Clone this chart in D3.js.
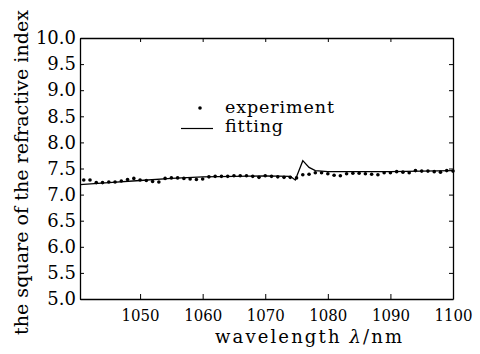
<!DOCTYPE html>
<html>
<head>
<meta charset="utf-8">
<script src="https://cdn.jsdelivr.net/npm/d3@7"></script>
<style>
    body { margin: 0; background: #fff; }
    .axis path, .axis line { stroke: #000; }
</style>
</head>
<body>
<div id="scene"></div>
<script>
// experiment points (wavelength in nm, square of refractive index)
const expWavelength = [1041, 1042, 1043, 1044, 1045, 1046, 1047, 1048, 1049, 1050,
    1051, 1052, 1053, 1054, 1055, 1056, 1057, 1058, 1059, 1060,
    1061, 1062, 1063, 1064, 1065, 1066, 1067, 1068, 1069, 1070,
    1071, 1072, 1073, 1074, 1075, 1076, 1077, 1078, 1079, 1080,
    1081, 1082, 1083, 1084, 1085, 1086, 1087, 1088, 1089, 1090,
    1091, 1092, 1093, 1094, 1095, 1096, 1097, 1098, 1099, 1100];
const expValues = [7.28, 7.28, 7.23, 7.23, 7.24, 7.24, 7.26, 7.29, 7.31, 7.28,
    7.27, 7.25, 7.24, 7.31, 7.32, 7.32, 7.31, 7.30, 7.29, 7.30,
    7.34, 7.35, 7.35, 7.35, 7.36, 7.36, 7.36, 7.35, 7.33, 7.36,
    7.35, 7.34, 7.33, 7.33, 7.32, 7.38, 7.39, 7.42, 7.42, 7.40,
    7.37, 7.36, 7.40, 7.41, 7.41, 7.40, 7.39, 7.38, 7.42, 7.42,
    7.44, 7.43, 7.42, 7.46, 7.45, 7.45, 7.44, 7.43, 7.46, 7.45];

// fitting curve
const fitWavelength = [1040.4, 1045, 1050, 1055, 1060, 1065, 1070, 1074, 1074.8, 1076, 1077, 1078, 1080, 1085, 1090, 1095, 1100];
const fitValues = [7.19, 7.23, 7.27, 7.31, 7.34, 7.35, 7.36, 7.35, 7.28, 7.65, 7.52, 7.46, 7.44, 7.44, 7.44, 7.45, 7.46];

const xTicks = [1050, 1060, 1070, 1080, 1090, 1100];
const yTicks = [5.0, 5.5, 6.0, 6.5, 7.0, 7.5, 8.0, 8.5, 9.0, 9.5, 10.0];

const width = 480;
const height = 354;
const plotLeft = 80, plotRight = 453, plotTop = 38, plotBottom = 299;
// only the DejaVu serif face resolves here
const serif = "DejaVu Serif";

const svg = d3.select("#scene").append("svg")
    .attr("width", width)
    .attr("height", height)
    .attr("font-family", serif);

const xScale = d3.scaleLinear().domain([1040.4, 1100]).range([plotLeft, plotRight]);
const yScale = d3.scaleLinear().domain([5, 10]).range([plotBottom, plotTop]);

// bottom axis
svg.append("g")
    .attr("class", "axis")
    .attr("transform", `translate(0,${plotBottom})`)
    .call(d3.axisBottom(xScale).tickValues(xTicks).tickSizeInner(-5).tickSizeOuter(0).tickPadding(10).tickFormat(d3.format("d")))
    .attr("font-family", serif)
    .call(g => g.selectAll("text")
        .attr("font-size", 17.5)
        .attr("dy", "0.71em")
        .attr("textLength", 38)
        .attr("lengthAdjust", "spacingAndGlyphs"))
    .call(g => g.select(".domain").attr("stroke-width", 1.3));

// top axis (ticks only)
svg.append("g")
    .attr("class", "axis")
    .attr("transform", `translate(0,${plotTop})`)
    .call(d3.axisTop(xScale).tickValues(xTicks).tickSizeInner(-4).tickSizeOuter(0).tickFormat(""))
    .call(g => g.select(".domain").attr("stroke-width", 1.3));

// left axis
svg.append("g")
    .attr("class", "axis")
    .attr("transform", `translate(${plotLeft},0)`)
    .call(d3.axisLeft(yScale).tickValues(yTicks).tickSizeInner(-4).tickSizeOuter(0).tickPadding(4).tickFormat(d3.format(".1f")))
    .attr("font-family", serif)
    .call(g => g.selectAll("text").attr("font-size", 18))
    .call(g => g.select(".domain").attr("stroke-width", 1.3));

// right axis (ticks only)
svg.append("g")
    .attr("class", "axis")
    .attr("transform", `translate(${plotRight},0)`)
    .call(d3.axisRight(yScale).tickValues(yTicks).tickSizeInner(-4).tickSizeOuter(0).tickFormat(""))
    .call(g => g.select(".domain").attr("stroke-width", 1.3));

// fitting line
const line = d3.line()
    .x((d, i) => xScale(fitWavelength[i]))
    .y(d => yScale(d));

svg.append("path")
    .datum(fitValues)
    .attr("d", line)
    .attr("fill", "none")
    .attr("stroke", "#000")
    .attr("stroke-width", 1.3);

// experiment dots
svg.selectAll(".dot")
    .data(expValues)
    .enter().append("circle")
    .attr("class", "dot")
    .attr("cx", (d, i) => xScale(expWavelength[i]))
    .attr("cy", d => yScale(d))
    .attr("r", 1.8)
    .attr("fill", "#000");

// legend
svg.append("circle").attr("cx", 200).attr("cy", 108).attr("r", 1.8).attr("fill", "#000");
svg.append("text").attr("x", 225).attr("y", 113).attr("font-size", 17.5)
    .attr("textLength", 109).attr("lengthAdjust", "spacing").text("experiment");
svg.append("line")
    .attr("x1", 181).attr("x2", 213)
    .attr("y1", 128.5).attr("y2", 128.5)
    .attr("stroke", "#000").attr("stroke-width", 1.2);
svg.append("text").attr("x", 225).attr("y", 132).attr("font-size", 17.5)
    .attr("textLength", 58).attr("lengthAdjust", "spacing").text("fitting");

// axis titles
svg.append("text")
    .attr("x", 215)
    .attr("y", 343)
    .attr("font-size", 18)
    .attr("textLength", 187)
    .attr("lengthAdjust", "spacing")
    .html('wavelength <tspan font-style="italic">λ</tspan>/nm');

svg.append("text")
    .attr("transform", "translate(28,335) rotate(-90)")
    .attr("font-size", 18.5)
    .attr("textLength", 325)
    .attr("lengthAdjust", "spacingAndGlyphs")
    .text("the square of the refractive index");
</script>
</body>
</html>
